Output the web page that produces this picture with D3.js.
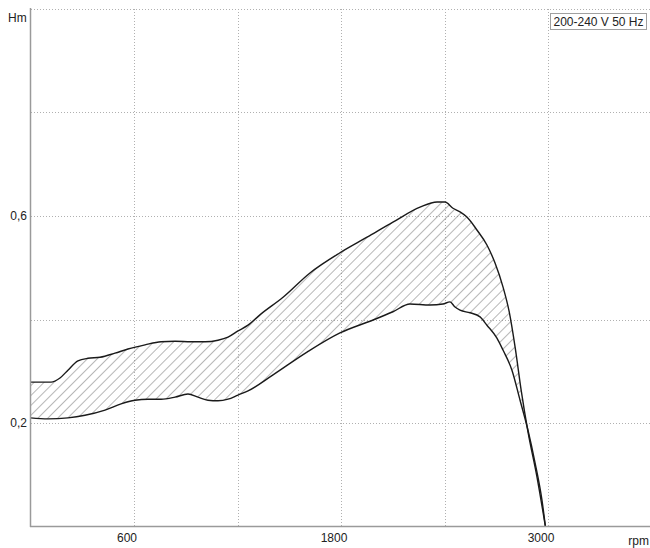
<!DOCTYPE html>
<html>
<head>
<meta charset="utf-8">
<script src="https://cdn.jsdelivr.net/npm/d3@7"></script>
<style>
  body { margin: 0; background: #fff; }
  svg { display: block; font-family: 'Liberation Sans', Arial, sans-serif; }
  .grid line { stroke: #b0b0b0; stroke-dasharray: 1,2; shape-rendering: crispEdges; }
  .lbl { font-size: 12px; fill: #222; }
</style>
</head>
<body>
<svg id="chart"></svg>
<script>
(function(d3) {
    'use strict';

    // band limits (rpm, Hm)
    var upperRpm = [0, 119, 171, 217, 275, 333, 403, 490, 565, 664, 757, 838, 930, 1012, 1087, 1145, 1203, 1261, 1330, 1464, 1620, 1794, 1951, 2101, 2258, 2357, 2403, 2449, 2490, 2530, 2588, 2646, 2693, 2739, 2775, 2810, 2845, 2884, 2936, 2985];
    var upperHm  = [0.279, 0.279, 0.287, 0.302, 0.320, 0.325, 0.327, 0.335, 0.343, 0.351, 0.357, 0.358, 0.357, 0.357, 0.360, 0.366, 0.378, 0.389, 0.409, 0.443, 0.490, 0.529, 0.559, 0.588, 0.617, 0.627, 0.627, 0.615, 0.608, 0.598, 0.573, 0.544, 0.509, 0.463, 0.415, 0.345, 0.262, 0.183, 0.096, 0.0];
    var lowerRpm = [0, 101, 217, 316, 432, 525, 606, 681, 757, 838, 913, 971, 1029, 1087, 1145, 1203, 1261, 1406, 1603, 1794, 1986, 2101, 2200, 2316, 2391, 2432, 2461, 2490, 2548, 2606, 2646, 2704, 2739, 2791, 2838, 2884, 2925, 2965, 2985];
    var lowerHm  = [0.210, 0.208, 0.210, 0.215, 0.225, 0.237, 0.244, 0.246, 0.246, 0.250, 0.256, 0.250, 0.244, 0.243, 0.246, 0.254, 0.262, 0.293, 0.337, 0.374, 0.399, 0.415, 0.430, 0.428, 0.430, 0.434, 0.424, 0.418, 0.413, 0.405, 0.389, 0.364, 0.341, 0.302, 0.244, 0.186, 0.123, 0.051, 0.0];

    var xGrid = [600, 1200, 1800, 2400, 3000],
        xLabels = [600, 1800, 3000],
        yGrid = [0.2, 0.4, 0.6, 0.8, 1.0],
        yLabels = [0.2, 0.6],
        legendText = '200-240 V 50 Hz';

    var width = 650, height = 548;

    var x = d3.scaleLinear().domain([0, 3600]).range([30.5, 651.5]),
        y = d3.scaleLinear().domain([0, 1]).range([526.5, 9]);

    var svg = d3.select('#chart')
        .attr('width', width)
        .attr('height', height);

    var defs = svg.append('defs');
    var pat = defs.append('pattern')
        .attr('id', 'hatch')
        .attr('patternUnits', 'userSpaceOnUse')
        .attr('width', 7)
        .attr('height', 7)
        .attr('patternTransform', 'rotate(45)');
    pat.append('line')
        .attr('x1', 0).attr('y1', 0)
        .attr('x2', 0).attr('y2', 7)
        .attr('stroke', '#707070')
        .attr('stroke-width', 1);

    // grid
    var grid = svg.append('g').attr('class', 'grid');
    grid.selectAll('.vx')
        .data(xGrid)
        .enter()
        .append('line')
        .attr('class', 'vx')
        .attr('x1', function (d) { return Math.round(x(d)) + 0.5; })
        .attr('x2', function (d) { return Math.round(x(d)) + 0.5; })
        .attr('y1', y(1))
        .attr('y2', y(0));
    grid.selectAll('.hy')
        .data(yGrid)
        .enter()
        .append('line')
        .attr('class', 'hy')
        .attr('x1', x(0))
        .attr('x2', width)
        .attr('y1', function (d) { return Math.round(y(d)) + 0.5; })
        .attr('y2', function (d) { return Math.round(y(d)) + 0.5; });

    var upper = upperRpm.map(function (r, i) { return [r, upperHm[i]]; }),
        lower = lowerRpm.map(function (r, i) { return [r, lowerHm[i]]; });

    var line = d3.line()
        .x(function (d) { return x(d[0]); })
        .y(function (d) { return y(d[1]); })
        .curve(d3.curveMonotoneX);

    // band polygon: upper forward, lower back
    var bandPath = line(upper) + 'L' + line(lower.slice().reverse()).slice(1) + 'Z';
    svg.append('path')
        .attr('d', bandPath)
        .attr('fill', 'url(#hatch)')
        .attr('stroke', 'none');

    svg.append('path')
        .datum(upper)
        .attr('d', line)
        .attr('fill', 'none')
        .attr('stroke', '#1a1a1a')
        .attr('stroke-width', 1.4);
    svg.append('path')
        .datum(lower)
        .attr('d', line)
        .attr('fill', 'none')
        .attr('stroke', '#1a1a1a')
        .attr('stroke-width', 1.4);

    // axes
    svg.append('line')
        .attr('x1', 30.5).attr('x2', 30.5)
        .attr('y1', 8).attr('y2', 527)
        .attr('stroke', '#9a9a9a')
        .attr('stroke-width', 1.5);
    svg.append('line')
        .attr('x1', 30).attr('x2', width)
        .attr('y1', 526.5).attr('y2', 526.5)
        .attr('stroke', '#9a9a9a')
        .attr('stroke-width', 1.5);

    svg.selectAll('.xl')
        .data(xLabels)
        .enter()
        .append('text')
        .attr('class', 'lbl xl')
        .attr('x', function (d) { return x(d) - 7; })
        .attr('y', 542)
        .attr('text-anchor', 'middle')
        .text(function (d) { return d; });

    svg.selectAll('.yl')
        .data(yLabels)
        .enter()
        .append('text')
        .attr('class', 'lbl yl')
        .attr('x', 27)
        .attr('y', function (d) { return y(d) + 4; })
        .attr('text-anchor', 'end')
        .text(function (d) { return d3.format('.1f')(d).replace('.', ','); });

    svg.append('text')
        .attr('class', 'lbl')
        .attr('x', 8).attr('y', 22)
        .text('Hm');
    svg.append('text')
        .attr('class', 'lbl')
        .attr('x', 649).attr('y', 545)
        .attr('text-anchor', 'end')
        .text('rpm');

    // legend box
    var lg = svg.append('g').attr('transform', 'translate(550,13)');
    lg.append('rect')
        .attr('x', 0.5).attr('y', 0.5)
        .attr('width', 96).attr('height', 16)
        .attr('fill', '#fff')
        .attr('stroke', '#a0a0a0');
    lg.append('text')
        .attr('class', 'lbl')
        .attr('x', 48.5).attr('y', 12.5)
        .attr('text-anchor', 'middle')
        .text(legendText);
})(window.d3);
</script>
</body>
</html>
